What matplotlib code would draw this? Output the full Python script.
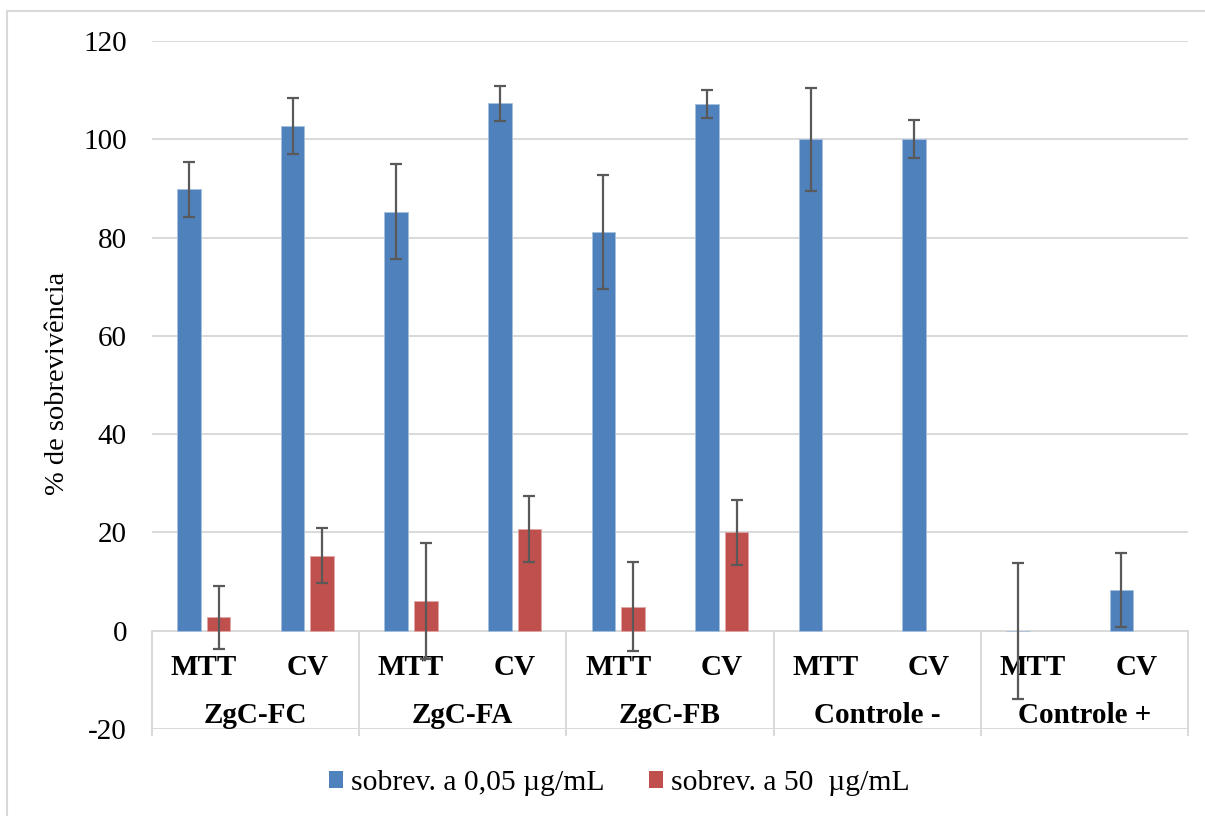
import numpy as np
import matplotlib
matplotlib.use("Agg")
import matplotlib.pyplot as plt
from matplotlib.patches import Rectangle, Patch

plt.rcParams['font.family'] = ['Liberation Serif', 'DejaVu Serif']

# Data
groups = ["ZgC-FC", "ZgC-FA", "ZgC-FB", "Controle -", "Controle +"]
methods = ["MTT", "CV"]
low_dose = [89.8, 102.8, 85.3, 107.3, 81.2, 107.2, 100.0, 100.0, 0.0, 8.3]
low_err = [5.6, 5.7, 9.7, 3.5, 11.6, 2.9, 10.5, 3.9, 13.8, 7.5]
high_dose = [2.7, 15.3, 6.0, 20.7, 4.9, 20.0, np.nan, np.nan, np.nan, np.nan]
high_err = [6.5, 5.6, 11.8, 6.8, 9.0, 6.6, np.nan, np.nan, np.nan, np.nan]
series_labels = ["sobrev. a 0,05 \u00b5g/mL", "sobrev. a 50  \u00b5g/mL"]
yticks = [-20, 0, 20, 40, 60, 80, 100, 120]

blue = "#4F81BD"
red = "#C0504D"
grid_c = "#D9D9D9"
err_c = "#595959"

W, H = 1205, 816
fig = plt.figure(figsize=(W / 100, H / 100), dpi=100)
ax = fig.add_axes([152 / W, 1 - 729 / H, (1188 - 152) / W, (729 - 41) / H])

n = len(low_dose)
x = np.arange(n) + 0.5
bw = 0.227
off = 0.1425

ax.bar(x - off, low_dose, bw, color=blue, edgecolor="#A7C0DE", linewidth=0.6, zorder=3)
ax.bar(x + off, high_dose, bw, color=red, edgecolor="#DFA7A6", linewidth=0.6, zorder=3)

ekw = dict(fmt="none", ecolor=err_c, elinewidth=1.6, capsize=4.3, capthick=1.6, zorder=5)
ax.errorbar(x - off, low_dose, yerr=low_err, **ekw)
hd = np.array(high_dose, dtype=float)
he = np.array(high_err, dtype=float)
m = ~np.isnan(hd)
ax.errorbar((x + off)[m], hd[m], yerr=he[m], **ekw)

ax.set_xlim(0, n)
ax.set_ylim(-20, 120)
ax.set_yticks(yticks)
ax.set_yticklabels([str(t) for t in yticks], fontsize=21)
ax.tick_params(axis="y", length=0, pad=18)
ax.set_xticks([])
for s in ax.spines.values():
    s.set_visible(False)

# Horizontal gridlines
for t in yticks:
    ax.axhline(t, color=grid_c, lw=1.4, zorder=1)

# Category table below the zero line
ng = len(groups)
per = len(methods)
for b in range(ng + 1):
    ax.plot([b * per, b * per], [0, -21.2], color=grid_c, lw=1.4, clip_on=False, zorder=2)

for i in range(n):
    ax.text(x[i], -8.95, methods[i % per], ha="center", va="baseline",
            fontsize=21, fontweight="bold", zorder=4)
for g, name in enumerate(groups):
    ax.text(g * per + per / 2, -18.7, name, ha="center", va="baseline",
            fontsize=21, fontweight="bold", zorder=4)

# Axis title
fig.text(58 / W, 1 - 383 / H, "% de sobrevivência", rotation=90,
         ha="center", va="center", fontsize=20.5)

# Legend
handles = [Patch(facecolor=blue, edgecolor="none"), Patch(facecolor=red, edgecolor="none")]
fig.legend(handles, series_labels, loc="center", bbox_to_anchor=(619 / W, 1 - 783 / H),
           ncol=2, frameon=False, fontsize=21.3, handlelength=0.5, handleheight=0.5,
           handletextpad=0.25, columnspacing=1.5)

# Chart frame
fig.patches.append(Rectangle((7.5 / W, -0.05), 1.2, 1 - 11 / H + 0.05, transform=fig.transFigure,
                             fill=False, edgecolor=grid_c, lw=1.5))

fig.savefig("out.png", dpi=100)
